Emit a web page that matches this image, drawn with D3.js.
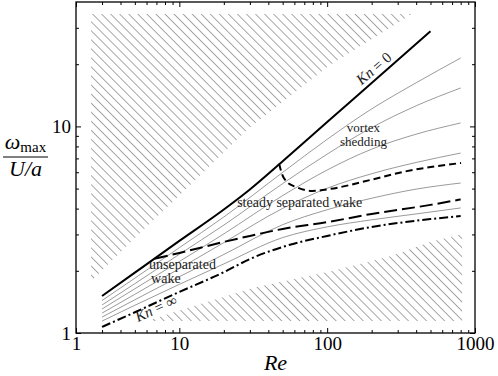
<!DOCTYPE html>
<html>
<head>
<meta charset="utf-8">
<script src="https://cdn.jsdelivr.net/npm/d3@7"></script>
<style>
    body { margin: 0; background: #fff; }
    svg { display: block; }
    text { font-family: "Liberation Serif", "Times New Roman", serif; }
</style>
</head>
<body>
<div id="chart"></div>
<script>
// Re grid shared by the constant-Kn curves
const reGrid = [3, 5, 10, 20, 50, 100, 200, 400, 800];

// thin gray curves, one row per Kn value (top to bottom)
const thinOmega = [
    [1.436, 1.842, 2.588, 3.643, 5.99, 8.66, 12.15, 16.26, 21.43],
    [1.366, 1.733, 2.404, 3.329, 5.285, 7.34, 9.87, 12.58, 15.34],
    [1.307, 1.637, 2.219, 3.018, 4.624, 6.15, 7.76, 9.17, 10.39],
    [1.248, 1.539, 2.050, 2.739, 4.010, 5.02, 5.90, 6.69, 7.43],
    [1.194, 1.448, 1.873, 2.399, 3.344, 3.95, 4.49, 4.97, 5.32],
    [1.142, 1.362, 1.719, 2.160, 2.896, 3.263, 3.53, 3.77, 4.03]
];

// Kn = 0 (solid)
const kn0Re = [3, 5, 10, 20, 30, 50, 100, 200, 500];
const kn0Omega = [1.51, 1.96, 2.79, 3.96, 4.95, 6.78, 10.5, 16.2, 28.9];

// Kn = infinity (dash-dot)
const knInfRe = [3, 5, 10, 20, 30, 50, 100, 200, 500, 800];
const knInfOmega = [1.07, 1.26, 1.58, 1.97, 2.28, 2.61, 2.95, 3.26, 3.56, 3.68];

// onset of separation (long dash)
const sepRe = [6.85, 10, 20, 30, 50, 100, 200, 500, 800];
const sepOmega = [2.29, 2.44, 2.76, 2.95, 3.19, 3.44, 3.77, 4.17, 4.43];

// onset of vortex shedding (short dash)
const shedRe = [47.3, 49.5, 53.5, 61.6, 79, 104.6, 195, 326, 805];
const shedOmega = [6.6, 5.88, 5.38, 5.09, 4.87, 4.98, 5.50, 6.02, 6.65];

// hatched regions
const upperHatchRe = [2.53, 375, 104.6, 29.6, 11.28, 5.42, 2.53];
const upperHatchOmega = [35, 35, 19.83, 9.82, 5.03, 3.05, 1.785];
const lowerHatchRe = [6.0, 13.8, 33.5, 108, 271, 497, 818, 818];
const lowerHatchOmega = [1.143, 1.382, 1.670, 1.995, 2.359, 2.757, 3.01, 1.143];

// axis ticks
const xMajor = [2, 10, 100, 1000];
const xTickLabels = ['1', '10', '100', '1000'];
const xMinor = [3, 4, 5, 6, 7, 8, 9, 20, 30, 40, 50, 60, 70, 80, 90, 200, 300, 400, 500, 600, 700, 800, 900];
const yMajor = [1, 10];
const yTickLabels = ['1', '10'];
const yMinor = [2, 3, 4, 5, 6, 7, 8, 9, 20, 30];

const zip = (a, b) => a.map((v, i) => [v, b[i]]);

const margin = {top: 2, right: 23, bottom: 43, left: 76};
const width = 498 - margin.left - margin.right;
const height = 376 - margin.top - margin.bottom;
const serif = '"Liberation Serif", "Times New Roman", serif';

const root = d3.select('#chart')
    .append('svg')
    .attr('width', 498)
    .attr('height', 376)
    .attr('font-family', serif);

const defs = root.append('defs');
const pat = defs.append('pattern')
    .attr('id', 'hatch')
    .attr('patternUnits', 'userSpaceOnUse')
    .attr('width', 10)
    .attr('height', 6.4)
    .attr('patternTransform', 'rotate(45)');
pat.append('line')
    .attr('x1', 0).attr('x2', 10)
    .attr('y1', 3.2).attr('y2', 3.2)
    .attr('stroke', '#9a9a9a')
    .attr('stroke-width', 0.9);

const svg = root.append('g')
    .attr('transform', `translate(${margin.left},${margin.top})`);

const x = d3.scaleLog().domain([2, 1000]).range([0, width]);
const y = d3.scaleLog().domain([1, 40]).range([height, 0]);

const line = d3.line()
    .x(d => x(d[0]))
    .y(d => y(d[1]))
    .curve(d3.curveMonotoneX);

const poly = d3.line()
    .x(d => x(d[0]))
    .y(d => y(d[1]));

// Hatch
svg.append('path')
    .attr('d', poly(zip(upperHatchRe, upperHatchOmega)) + 'Z')
    .attr('fill', 'url(#hatch)');
svg.append('path')
    .attr('d', poly(zip(lowerHatchRe, lowerHatchOmega)) + 'Z')
    .attr('fill', 'url(#hatch)');

// Thin curves
thinOmega.forEach(row => {
    svg.append('path')
        .datum(zip(reGrid, row))
        .attr('fill', 'none')
        .attr('stroke', '#808080')
        .attr('stroke-width', 0.8)
        .attr('d', line);
});

// Boundaries
svg.append('path')
    .datum(zip(sepRe, sepOmega))
    .attr('fill', 'none')
    .attr('stroke', '#000')
    .attr('stroke-width', 2)
    .attr('stroke-dasharray', '13,5')
    .attr('d', line);

svg.append('path')
    .datum(zip(shedRe, shedOmega))
    .attr('fill', 'none')
    .attr('stroke', '#000')
    .attr('stroke-width', 2)
    .attr('stroke-dasharray', '7,4')
    .attr('d', line);

svg.append('path')
    .datum(zip(knInfRe, knInfOmega))
    .attr('fill', 'none')
    .attr('stroke', '#000')
    .attr('stroke-width', 2)
    .attr('stroke-dasharray', '9,3,2,3')
    .attr('d', line);

svg.append('path')
    .datum(zip(kn0Re, kn0Omega))
    .attr('fill', 'none')
    .attr('stroke', '#000')
    .attr('stroke-width', 2)
    .attr('d', line);

// Annotations
function note(re, om, txt, size, anchor) {
    return svg.append('text')
        .attr('x', x(re))
        .attr('y', y(om))
        .attr('text-anchor', anchor || 'start')
        .style('font-size', size + 'px')
        .attr('fill', '#222')
        .text(txt);
}
note(176, 9.4, 'vortex', 13, 'middle');
note(176, 8.05, 'shedding', 13, 'middle');
note(24.6, 4.07, 'steady separated wake', 14);
note(6.24, 2.04, 'unseparated', 14);
note(6.44, 1.74, 'wake', 14);

function knLabel(re, om, angle, rest) {
    const t = svg.append('text')
        .attr('text-anchor', 'middle')
        .attr('transform', `translate(${x(re)},${y(om)}) rotate(${angle})`)
        .style('font-size', '15px')
        .attr('fill', '#222');
    t.append('tspan').style('font-style', 'italic').text('Kn');
    t.append('tspan').text(rest);
}
knLabel(217.6, 18.3, -41, ' = 0');
knLabel(7.18, 1.25, -25, ' = \u221e');

// Axes
function styleAxis(g) {
    g.attr('font-family', serif).attr('font-size', 19);
    g.select('.domain').remove();
    g.selectAll('line').attr('stroke', '#000');
    g.selectAll('text').attr('fill', '#000');
}

svg.append('g')
    .attr('transform', `translate(0,${height})`)
    .call(d3.axisBottom(x).tickValues(xMajor).tickFormat((d, i) => xTickLabels[i])
        .tickSizeInner(-5).tickSizeOuter(0).tickPadding(4))
    .call(styleAxis);
svg.append('g')
    .attr('transform', `translate(0,${height})`)
    .call(d3.axisBottom(x).tickValues(xMinor).tickFormat('').tickSizeInner(-3).tickSizeOuter(0))
    .call(styleAxis);
svg.append('g')
    .call(d3.axisTop(x).tickValues(xMajor).tickFormat('').tickSizeInner(-5).tickSizeOuter(0))
    .call(styleAxis);
svg.append('g')
    .call(d3.axisTop(x).tickValues(xMinor).tickFormat('').tickSizeInner(-3).tickSizeOuter(0))
    .call(styleAxis);

svg.append('g')
    .call(d3.axisLeft(y).tickValues(yMajor).tickFormat((d, i) => yTickLabels[i])
        .tickSizeInner(-5).tickSizeOuter(0).tickPadding(5))
    .call(styleAxis);
svg.append('g')
    .call(d3.axisLeft(y).tickValues(yMinor).tickFormat('').tickSizeInner(-3).tickSizeOuter(0))
    .call(styleAxis);
svg.append('g')
    .attr('transform', `translate(${width},0)`)
    .call(d3.axisRight(y).tickValues(yMajor).tickFormat('').tickSizeInner(-5).tickSizeOuter(0))
    .call(styleAxis);
svg.append('g')
    .attr('transform', `translate(${width},0)`)
    .call(d3.axisRight(y).tickValues(yMinor).tickFormat('').tickSizeInner(-3).tickSizeOuter(0))
    .call(styleAxis);

// Frame
svg.append('rect')
    .attr('width', width)
    .attr('height', height)
    .attr('fill', 'none')
    .attr('stroke', '#000')
    .attr('stroke-width', 1.3);

// Axis titles
root.append('text')
    .attr('x', margin.left + width / 2)
    .attr('y', 370)
    .attr('text-anchor', 'middle')
    .style('font-size', '22px')
    .style('font-style', 'italic')
    .text('Re');

const yl = root.append('g').attr('transform', 'translate(25.5,0)');
const num = yl.append('text')
    .attr('y', 149)
    .attr('text-anchor', 'middle')
    .style('font-size', '22px');
num.append('tspan').style('font-style', 'italic').text('\u03c9');
num.append('tspan').attr('dy', 3).style('font-size', '15px').text('max');
yl.append('line')
    .attr('x1', -22.5).attr('x2', 22.5)
    .attr('y1', 157).attr('y2', 157)
    .attr('stroke', '#000')
    .attr('stroke-width', 1);
yl.append('text')
    .attr('y', 176)
    .attr('text-anchor', 'middle')
    .style('font-size', '22px')
    .style('font-style', 'italic')
    .text('U/a');
</script>
</body>
</html>
